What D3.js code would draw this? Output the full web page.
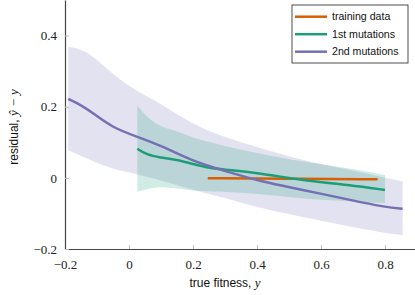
<!DOCTYPE html>
<meta charset="utf-8">
<head>
<script src="https://d3js.org/d3.v7.min.js"></script>
<style>
body { margin: 0; background: #fff; }
</style>
</head>
<body>
<script>

// 2nd mutations: mean and band
var x2 = [-0.19, -0.15, -0.112, -0.049, 0.024, 0.097, 0.2, 0.305, 0.409, 0.534, 0.69, 0.805, 0.855];
var mean2 = [0.222, 0.205, 0.182, 0.14, 0.116, 0.092, 0.046, 0.018, -0.01, -0.032, -0.062, -0.083, -0.087];
var hi2 = [0.368, 0.362, 0.342, 0.29, 0.243, 0.21, 0.149, 0.112, 0.084, 0.051, 0.023, -0.001, -0.01];
var lo2 = [0.077, 0.062, 0.046, 0.024, 0.011, -0.006, -0.034, -0.057, -0.085, -0.109, -0.137, -0.156, -0.161];

// 1st mutations
var x1 = [0.026, 0.055, 0.097, 0.149, 0.2, 0.253, 0.305, 0.409, 0.534, 0.69, 0.8];
var mean1 = [0.082, 0.065, 0.057, 0.051, 0.039, 0.027, 0.023, 0.013, -0.006, -0.02, -0.034];
var hi1 = [0.203, 0.171, 0.143, 0.133, 0.112, 0.1, 0.088, 0.068, 0.046, 0.027, 0.008];
var lo1 = [-0.039, -0.032, -0.024, -0.03, -0.036, -0.038, -0.04, -0.045, -0.058, -0.066, -0.071];

// training data
var x0 = [0.246, 0.5, 0.777];
var mean0 = [-0.001, -0.002, -0.004];

var xTicks = [-0.2, 0, 0.2, 0.4, 0.6, 0.8];
var yTicks = [-0.2, 0, 0.2, 0.4];
var legendLabels = ["training data", "1st mutations", "2nd mutations"];
var colors = ["#d95f02", "#1b9e77", "#7570b3"];

var W = 415, H = 295;
var serif = "'Liberation Serif', 'DejaVu Serif', serif";
var sans = "'Liberation Sans', Helvetica, Arial, sans-serif";

var x = d3.scaleLinear().domain([-0.2, 0.9]).range([65, 417]);
var y = d3.scaleLinear().domain([-0.2, 0.5]).range([249, 0]);

var svg = d3.select("body").append("svg")
    .attr("width", W)
    .attr("height", H);

function zip(xs, ys) { return xs.map(function(v, i) { return [v, ys[i]]; }); }

var area = d3.area()
    .x(function(d) { return x(d[0]); })
    .y0(function(d) { return y(d[1]); })
    .y1(function(d) { return y(d[2]); })
    .curve(d3.curveBasis);

var line = d3.line()
    .x(function(d) { return x(d[0]); })
    .y(function(d) { return y(d[1]); })
    .curve(d3.curveBasis);

// bands
svg.append("path")
    .datum(x2.map(function(v, i) { return [v, lo2[i], hi2[i]]; }))
    .attr("d", area)
    .attr("fill", colors[2]).attr("fill-opacity", 0.2);
svg.append("path")
    .datum(x1.map(function(v, i) { return [v, lo1[i], hi1[i]]; }))
    .attr("d", area)
    .attr("fill", colors[1]).attr("fill-opacity", 0.2);

// lines
[[x0, mean0], [x1, mean1], [x2, mean2]].forEach(function(s, i) {
  svg.append("path")
      .datum(zip(s[0], s[1]))
      .attr("d", line)
      .attr("fill", "none")
      .attr("stroke", colors[i])
      .attr("stroke-width", 2.5);
});

var fmt = function(d) { return d === 0 ? "0" : d3.format(".1f")(d).replace("-", "\u2212"); };

// axes
var xAxis = svg.append("g")
    .attr("transform", "translate(0,249)")
    .call(d3.axisBottom(x).tickValues(xTicks).tickSizeInner(-4).tickSizeOuter(0).tickPadding(8).tickFormat(fmt));
xAxis.select(".domain").attr("stroke", "#444").attr("stroke-width", 1.2);
xAxis.selectAll(".tick line").attr("stroke", "#bbb");
xAxis.selectAll(".tick text").attr("dy", "0.95em")
    .style("font-family", serif).style("font-size", "13px").attr("fill", "#222");

var yAxis = svg.append("g")
    .attr("transform", "translate(65,0)")
    .call(d3.axisLeft(y).tickValues(yTicks).tickSizeInner(-4).tickSizeOuter(0).tickPadding(8).tickFormat(fmt));
yAxis.select(".domain").attr("stroke", "#444").attr("stroke-width", 1.2);
yAxis.selectAll(".tick line").attr("stroke", "#bbb");
yAxis.selectAll(".tick text")
    .style("font-family", serif).style("font-size", "13px").attr("fill", "#222");

// axis labels
var xl = svg.append("text")
    .attr("x", 225).attr("y", 287)
    .attr("text-anchor", "middle")
    .style("font-family", sans).style("font-size", "12px").attr("fill", "#111");
xl.append("tspan").text("true fitness, ");
xl.append("tspan").style("font-family", serif).style("font-style", "italic")
    .style("font-size", "13px").text("y");

var yl = svg.append("text")
    .attr("transform", "translate(18,127) rotate(-90)")
    .attr("text-anchor", "middle")
    .style("font-family", sans).style("font-size", "12px").attr("fill", "#111");
yl.append("tspan").text("residual, ");
yl.append("tspan").style("font-family", serif).style("font-style", "italic")
    .style("font-size", "13px").text("\u0177 \u2212 y");

// legend
var lg = svg.append("g").attr("transform", "translate(292,5)");
lg.append("rect")
    .attr("width", 116).attr("height", 58)
    .attr("fill", "#fff").attr("stroke", "#222").attr("stroke-width", 0.8);
legendLabels.forEach(function(t, i) {
  var yy = 11.7 + i * 17.5;
  lg.append("line")
      .attr("x1", 3).attr("x2", 35).attr("y1", yy).attr("y2", yy)
      .attr("stroke", colors[i]).attr("stroke-width", 2.5);
  lg.append("text")
      .attr("x", 40).attr("y", yy).attr("dy", "0.35em")
      .style("font-family", sans).style("font-size", "10.6px").attr("fill", "#111")
      .text(t);
});

</script>
</body>
